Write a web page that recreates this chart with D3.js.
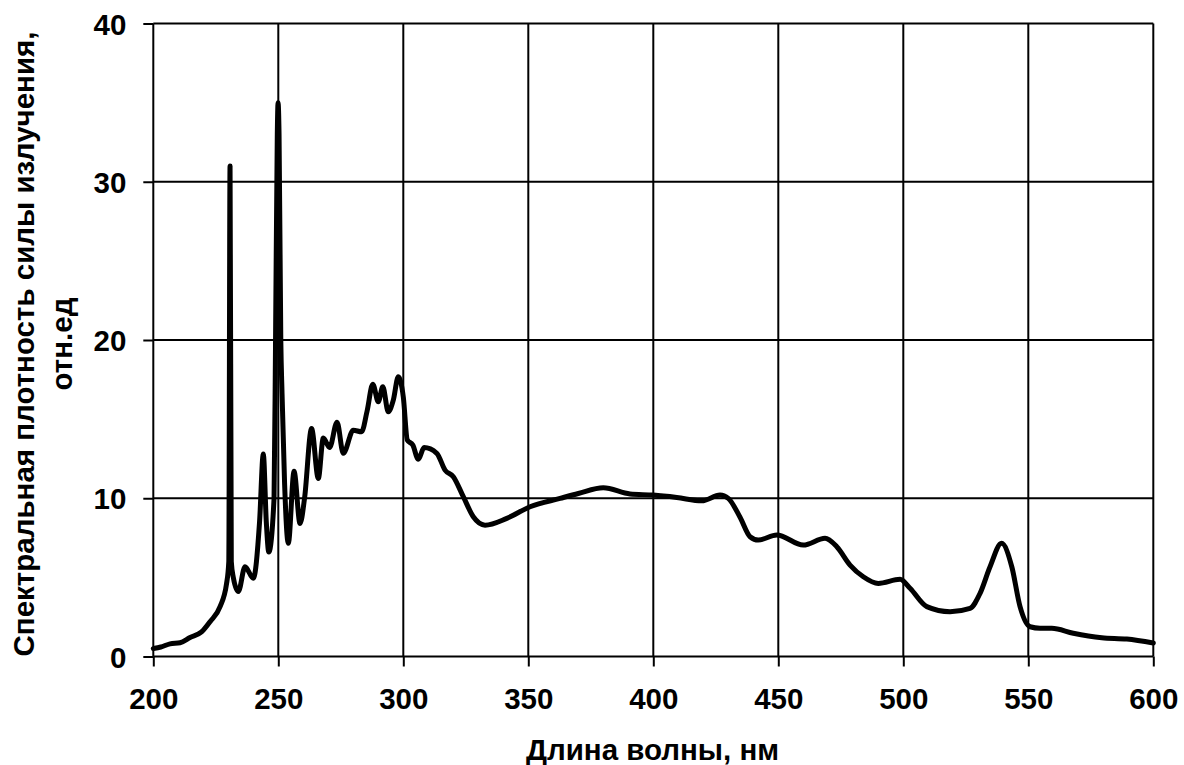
<!DOCTYPE html>
<html>
<head>
<meta charset="utf-8">
<script src="https://cdn.jsdelivr.net/npm/d3@7/dist/d3.min.js"></script>
<style>
  html, body { margin: 0; padding: 0; background: #fff; }
  svg { display: block; }
  text { font-family: "Liberation Sans", Arial, sans-serif; font-weight: bold; fill: #000; }
</style>
</head>
<body>
<svg id="chart" width="1184" height="765"></svg>
<script>
// ---- data ----
const wavelength = [200, 203, 206.7, 210.7, 214.7, 219.3, 222.7, 226.7, 229.3, 230.2, 230.7, 231.2, 232, 234,
  236.7, 240, 242.5, 244, 245.2, 246.2, 248.3, 248.9, 249.6, 249.9, 250.3, 251, 251.5, 252.5, 254,
  256.3, 258.7, 260.5, 263.3, 266, 268, 270.5, 273.5, 276, 280, 283.3, 285.5, 287.8, 290, 291.8,
  294, 296, 298, 300, 301.6, 303.8, 306, 308.3, 313.4, 316.7, 320, 324, 328, 332.7, 341.4, 350.7,
  362.7, 370, 380, 390.7, 400, 409.4, 419.4, 426.7, 430, 434.7, 438.7, 442, 449.4, 460, 468.7,
  473.4, 478.7, 484, 490, 498.7, 502.7, 509.4, 518.7, 526.7, 530.7, 534.7, 539.3, 543.4, 546.7,
  550.7, 554.7, 559.4, 568, 579.4, 589.4, 600];
const intensity = [0.5, 0.6, 0.8, 0.87, 1.2, 1.55, 2.2, 3.15, 4.6, 6.0, 31, 6.0, 5.0, 4.1,
  5.67, 4.94, 8.5, 12.8, 8.5, 6.6, 10, 20, 33, 35, 33, 20, 16.6, 11, 7.15,
  11.7, 8.4, 10, 14.4, 11.25, 13.8, 13.2, 14.8, 12.84, 14.3, 14.2, 15.5, 17.2, 16.1, 17.05,
  15.46, 16.2, 17.68, 16.4, 13.68, 13.36, 12.46, 13.2, 12.84, 11.78, 11.36, 10.1, 8.83, 8.3, 8.73, 9.46,
  9.99, 10.3, 10.66, 10.27, 10.2, 10.05, 9.84, 10.2, 9.99, 8.8, 7.57, 7.36, 7.68, 7.04, 7.47,
  6.94, 5.78, 5.04, 4.62, 4.88, 4.31, 3.15, 2.83, 3.04, 3.99, 5.67, 7.15, 5.67, 3.15,
  1.88, 1.78, 1.78, 1.47, 1.19, 1.1, 0.85];
const xTicks = [200, 250, 300, 350, 400, 450, 500, 550, 600];
const yTicks = [0, 10, 20, 30, 40];
const xTitle = "Длина волны, нм";
const yTitleLines = ["Спектральная плотность силы излучения,", "отн.ед"];

// ---- layout ----
const svg = d3.select("#chart");
const mLeft = 153.3, mRight = 1153.3, mTop = 23.5, mBottom = 656.5;
const fs = 29.5;
const x = d3.scaleLinear().domain([200, 600]).range([mLeft, mRight]);
const y = d3.scaleLinear().domain([0, 40]).range([mBottom, mTop]);

// grid
const g = svg.append("g");
g.selectAll("line.vg").data(xTicks).join("line")
  .attr("x1", d => x(d)).attr("x2", d => x(d))
  .attr("y1", mTop).attr("y2", mBottom)
  .attr("stroke", "#000").attr("stroke-width", 2);
g.selectAll("line.hg").data(yTicks).join("line")
  .attr("x1", mLeft).attr("x2", mRight)
  .attr("y1", d => y(d)).attr("y2", d => y(d))
  .attr("stroke", "#000").attr("stroke-width", 2);

// axes
const xAxis = d3.axisBottom(x).tickValues(xTicks).tickSize(10).tickPadding(0).tickFormat(d3.format("d"));
const yAxis = d3.axisLeft(y).tickValues(yTicks).tickSize(10).tickPadding(17).tickFormat(d3.format("d"));

const gx = svg.append("g").attr("transform", `translate(0,${mBottom})`).call(xAxis);
gx.select(".domain").remove();
gx.selectAll(".tick line").attr("stroke", "#000").attr("stroke-width", 2);
gx.selectAll(".tick text").attr("font-size", fs).attr("dy", null).attr("y", 52.5)
  .style("font-family", '"Liberation Sans", Arial, sans-serif').style("font-weight", "bold");

const gy = svg.append("g").attr("transform", `translate(${mLeft},0)`).call(yAxis);
gy.select(".domain").remove();
gy.selectAll(".tick line").attr("stroke", "#000").attr("stroke-width", 2);
gy.selectAll(".tick text").attr("font-size", fs).attr("dy", "0.36em")
  .style("font-family", '"Liberation Sans", Arial, sans-serif').style("font-weight", "bold");

// curve
const pts = wavelength.map((w, i) => [w, intensity[i]]);
const line = d3.line().x(d => x(d[0])).y(d => y(d[1])).curve(d3.curveMonotoneX);
svg.append("path").datum(pts)
  .attr("d", line).attr("fill", "none").attr("stroke", "#000")
  .attr("stroke-width", 5).attr("stroke-linejoin", "round").attr("stroke-linecap", "round");

// titles
svg.append("text").attr("x", 652.5).attr("y", 760).attr("text-anchor", "middle")
  .attr("font-size", fs).text(xTitle);

const yt = svg.append("text").attr("transform", "translate(0,344) rotate(-90)")
  .attr("text-anchor", "middle").attr("font-size", fs);
yt.append("tspan").attr("x", 0).attr("y", 33.5).text(yTitleLines[0]);
yt.append("tspan").attr("x", 0).attr("y", 71.7).text(yTitleLines[1]);
</script>
</body>
</html>
